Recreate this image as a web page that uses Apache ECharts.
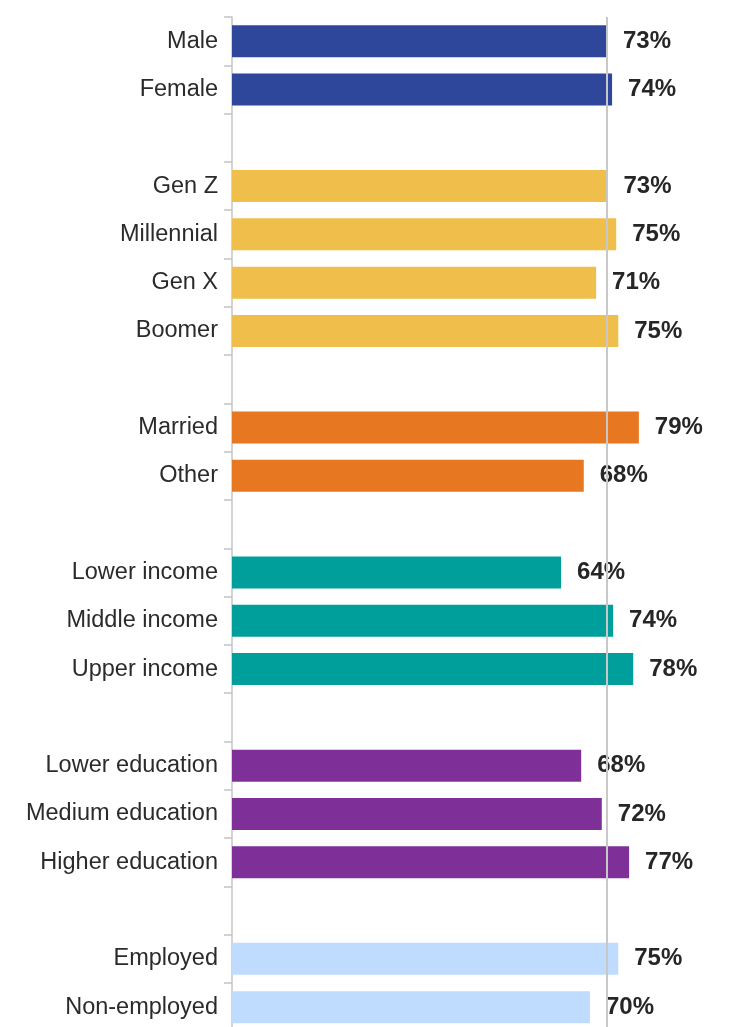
<!DOCTYPE html>
<html>
<head>
<meta charset="utf-8">
<script src="https://cdn.jsdelivr.net/npm/echarts@6/dist/echarts.min.js"></script>
<style>
html,body{margin:0;padding:0;background:#fff;overflow:hidden;}
#chart{width:729px;height:1040px;}
</style>
</head>
<body>
<div id="chart"></div>
<script>
// Categories (blank entries are group spacers)
var categories = ['Male','Female','','Gen Z','Millennial','Gen X','Boomer','','Married','Other','','Lower income','Middle income','Upper income','','Lower education','Medium education','Higher education','','Employed','Non-employed'];
// Values (percent)
var values = [72.8, 73.8, null, 72.9, 74.6, 70.7, 75.0, null, 79.0, 68.3, null, 63.9, 74.0, 77.9, null, 67.8, 71.8, 77.1, null, 75.0, 69.5];
// Displayed labels
var labelTexts = ['73%','74%','','73%','75%','71%','75%','','79%','68%','','64%','74%','78%','','68%','72%','77%','','75%','70%'];
// Group of each category
var groups = ['gender','gender','','gen','gen','gen','gen','','marital','marital','','income','income','income','','edu','edu','edu','','emp','emp'];
// Reference line value
var referenceValue = 72.85;

var groupColors = {gender:'#2f479b', gen:'#f0bf4b', marital:'#e87722', income:'#009f9c', edu:'#7f3098', emp:'#bfdbfd'};

var data = values.map(function(v, i){
  return {value: v, itemStyle: {color: groupColors[groups[i]] || '#ccc'}};
});

var chart = echarts.init(document.getElementById('chart'));
chart.setOption({
  animation: false,
  grid: {left: 232, top: 17, width: 497, height: 1014.3, containLabel: false},
  xAxis: {type: 'value', min: 0, max: 96.5, show: false},
  yAxis: {
    type: 'category', data: categories, inverse: true,
    axisLine: {show: true, lineStyle: {color: '#c4c4c4', width: 1.5}},
    axisTick: {show: true, length: 8, lineStyle: {color: '#c4c4c4', width: 1.5}},
    axisLabel: {margin: 14, fontSize: 23.5, color: '#2b2b2b', fontFamily: 'Liberation Sans, Arial, sans-serif'}
  },
  series: [{
    type: 'bar', data: data, barWidth: 32,
    label: {
      show: true, position: 'right', distance: 16,
      fontSize: 24, fontWeight: 'bold', color: '#262626', fontFamily: 'Liberation Sans, Arial, sans-serif',
      formatter: function(p){ return labelTexts[p.dataIndex]; }
    },
    markLine: {
      silent: true, symbol: 'none', label: {show: false},
      lineStyle: {color: '#c8c8c8', width: 2, type: 'solid'},
      data: [{xAxis: referenceValue}]
    }
  }]
});
</script>
</body>
</html>
